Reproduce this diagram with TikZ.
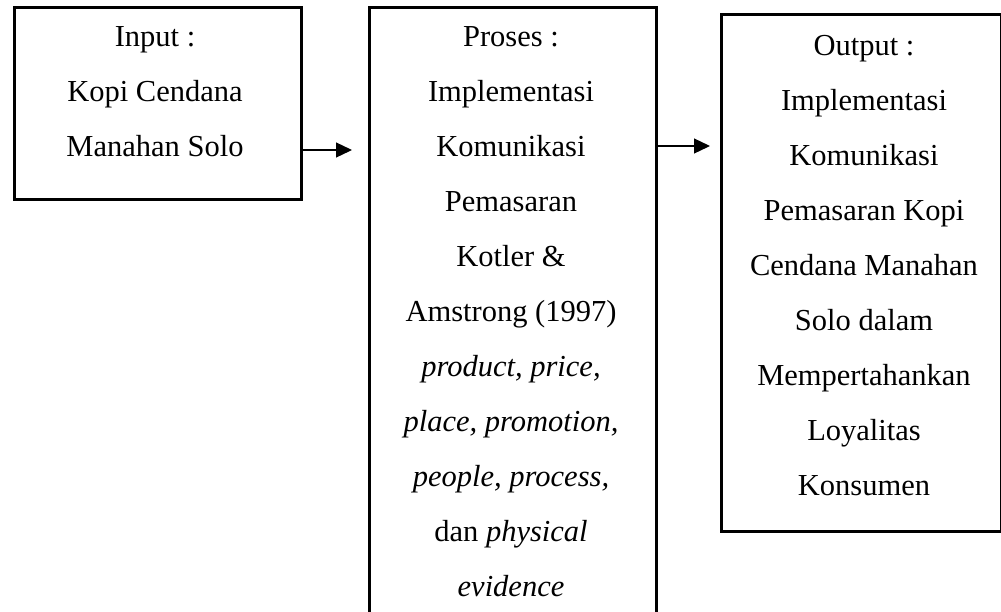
\documentclass[tikz,border=0pt]{standalone}
\usepackage{fontspec}
\setmainfont{Liberation Serif}
\usetikzlibrary{arrows.meta,calc}
\begin{document}
\begin{tikzpicture}[x=1pt,y=1pt,
  box/.style={draw=black, line width=2.6pt, inner sep=0pt, anchor=north west},
  txt/.style={align=center, inner sep=0pt, anchor=base, font=\fontsize{30.5}{55}\selectfont},
  arr/.style={line width=1.3pt, -{Triangle[length=16pt,width=15pt]}}]
\useasboundingbox (0,0) rectangle (1001,-611);
\clip (0,0) rectangle (1001,-611);
\node[box, minimum width=287pt, minimum height=192pt] (b1) at (13,-6) {};
\node[box, minimum width=287pt, minimum height=640pt] (b2) at (368,-6) {};
\node[box, minimum width=279.5pt, minimum height=517pt] (b3) at (720,-13) {};
\node[txt] (t1) at (155,-156) {Input :\\Kopi Cendana\\Manahan Solo};
\node[txt] (t2) at (511,-596) {Proses :\\Implementasi\\Komunikasi\\Pemasaran\\Kotler \&\\Amstrong (1997)\\\textit{product, price,}\\\textit{place, promotion,}\\\textit{people, process,}\\dan \textit{physical}\\\textit{evidence}};
\node[txt] (t3) at (864,-495) {Output :\\Implementasi\\Komunikasi\\Pemasaran Kopi\\Cendana Manahan\\Solo dalam\\Mempertahankan\\Loyalitas\\Konsumen};
\coordinate (y1) at (0,-150);
\coordinate (y2) at (0,-146);
\draw[arr, shorten >=16pt] (b1.east |- y1) -- (b2.west |- y1);
\draw[arr, shorten >=10pt] (b2.east |- y2) -- (b3.west |- y2);
\end{tikzpicture}
\end{document}
